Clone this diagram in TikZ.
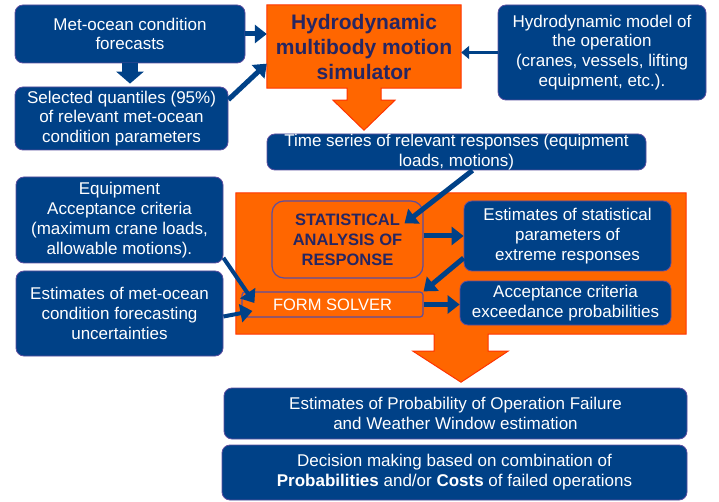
\documentclass[tikz,border=0pt]{standalone}
\usepackage{fontspec}
\setmainfont{Liberation Sans}
\usetikzlibrary{arrows.meta,backgrounds,calc}

\definecolor{boxblue}{RGB}{0,65,135}
\definecolor{boxedge}{RGB}{92,78,160}
\definecolor{simorange}{RGB}{255,102,0}
\definecolor{simedge}{RGB}{255,51,0}
\definecolor{titlenavy}{RGB}{38,38,98}

\begin{document}
\begin{tikzpicture}[x=1pt,y=-1pt]
	\tikzstyle{info} = [draw=boxedge, line width=0.8pt, fill=boxblue, text=white, rounded corners=8pt, inner sep=0pt, align=center, font=\fontsize{17}{19.8}\selectfont]
	\tikzstyle{title} = [inner sep=0pt, align=center, text=titlenavy, font=\fontsize{21}{25}\selectfont\bfseries]
	\tikzstyle{stage} = [draw=boxedge, line width=1.2pt, inner sep=0pt, align=center]
	\tikzstyle{orangeshape} = [fill=simorange, draw=simedge, line width=1pt]
	\tikzset{link/.style = {draw=boxblue, line width=5pt, -{Triangle[length=12pt,width=18pt]}}}
	\tikzset{thinlink/.style = {draw=boxblue, line width=2.5pt, -{Triangle[length=8pt,width=13pt]}}}
	\tikzset{blocklink/.style = {draw=boxblue, line width=16pt, -{Triangle[length=12pt,width=27pt]}}}

	\useasboundingbox (0,0) rectangle (719,502);

	% inputs
	\node[info, minimum width=230pt, minimum height=58pt](fcast) at (130,34) {Met-ocean condition\\forecasts};
	\node[info, minimum width=213pt, minimum height=63pt](quant) at (121.5,118.5) {Selected quantiles (95\%)\\of relevant met-ocean\\condition parameters};
	\node[info, minimum width=208pt, minimum height=95pt](model) at (602,52.5) {Hydrodynamic model of\\the operation\\(cranes, vessels, lifting\\equipment, etc.).};

	% simulator
	\node[title, minimum width=194pt, minimum height=83pt](sim) at (364,46.5) {Hydrodynamic\\multibody motion\\simulator};
	\begin{scope}[on background layer]
		\draw[orangeshape] (sim.north west) -- (sim.north east) -- (sim.south east) -- ([xshift=17pt]sim.south) -- ++(0,12) -- ++(14,0) -- ++(-31,30) -- ++(-31,-30) -- ++(14,0) -- ++(0,-12) -- (sim.south west) -- cycle;
	\end{scope}

	\node[info, minimum width=379pt, minimum height=36pt](tseries) at (456.5,152) {Time series of relevant responses (equipment\\loads, motions)};

	% statistical post-processing
	\node[minimum width=450pt, minimum height=141pt, inner sep=0pt](panel) at (461,263.5) {};
	\begin{scope}[on background layer]
		\draw[orangeshape] (panel.north west) -- (panel.north east) -- (panel.south east) -- ([xshift=27pt]panel.south) -- ++(0,17) -- ++(20,0) -- ++(-47,31) -- ++(-48,-31) -- ++(21,0) -- ++(0,-17) -- (panel.south west) -- cycle;
	\end{scope}

	\node[stage, rounded corners=12pt, minimum width=151pt, minimum height=77pt, text=titlenavy, font=\fontsize{16.5}{20}\selectfont\bfseries](stat) at (347.5,239.5) {STATISTICAL\\ANALYSIS OF\\RESPONSE};
	\node[stage, rounded corners=3pt, minimum width=181pt, minimum height=25pt, text=white, font=\fontsize{16.5}{20}\selectfont](form) at (332.5,304.5) {FORM SOLVER};
	\node[info, minimum width=207pt, minimum height=70pt](estpar) at (567.5,236) {Estimates of statistical\\parameters of\\extreme responses};
	\node[info, minimum width=211pt, minimum height=44pt](accept) at (565.5,303) {Acceptance criteria\\exceedance probabilities};

	\node[info, minimum width=207pt, minimum height=86pt](equip) at (119.5,220) {Equipment\\Acceptance criteria\\(maximum crane loads,\\allowable motions).};
	\node[info, minimum width=207pt, minimum height=85pt](metunc) at (119.5,313.5) {Estimates of met-ocean\\condition forecasting\\uncertainties};

	% outcomes
	\node[info, minimum width=463pt, minimum height=51pt](probfail) at (455.5,413.5) {Estimates of Probability of Operation Failure\\and Weather Window estimation};
	\node[info, minimum width=465pt, minimum height=55pt](decision) at (454.5,472.5) {Decision making based on combination of\\\textbf{Probabilities} and/or \textbf{Costs} of failed operations};

	% connectors
	\draw[blocklink, shorten >=3pt](fcast.south) to (fcast.south |- quant.north);
	\draw[link](fcast.east) to (fcast.east -| sim.west);
	\draw[link](quant.10) to (sim.190);
	\draw[thinlink](model.west) to (model.west -| sim.east);
	\draw[link]([xshift=16pt]tseries.south) to ($(stat.center)+(57,-16)$);
	\draw[link](stat.east |- estpar.west) to (estpar.west);
	\draw[link]([yshift=-22pt]estpar.west) to (form.north east);
	\draw[link](form.east) to (form.east -| accept.west);
	\draw[link, line width=4pt](equip.-20) to ($(form.west)+(13,-1.5)$);
	\draw[link, line width=4pt]([yshift=-3pt]metunc.east) to ($(form.west)+(11,6.5)$);

\end{tikzpicture}
\end{document}
